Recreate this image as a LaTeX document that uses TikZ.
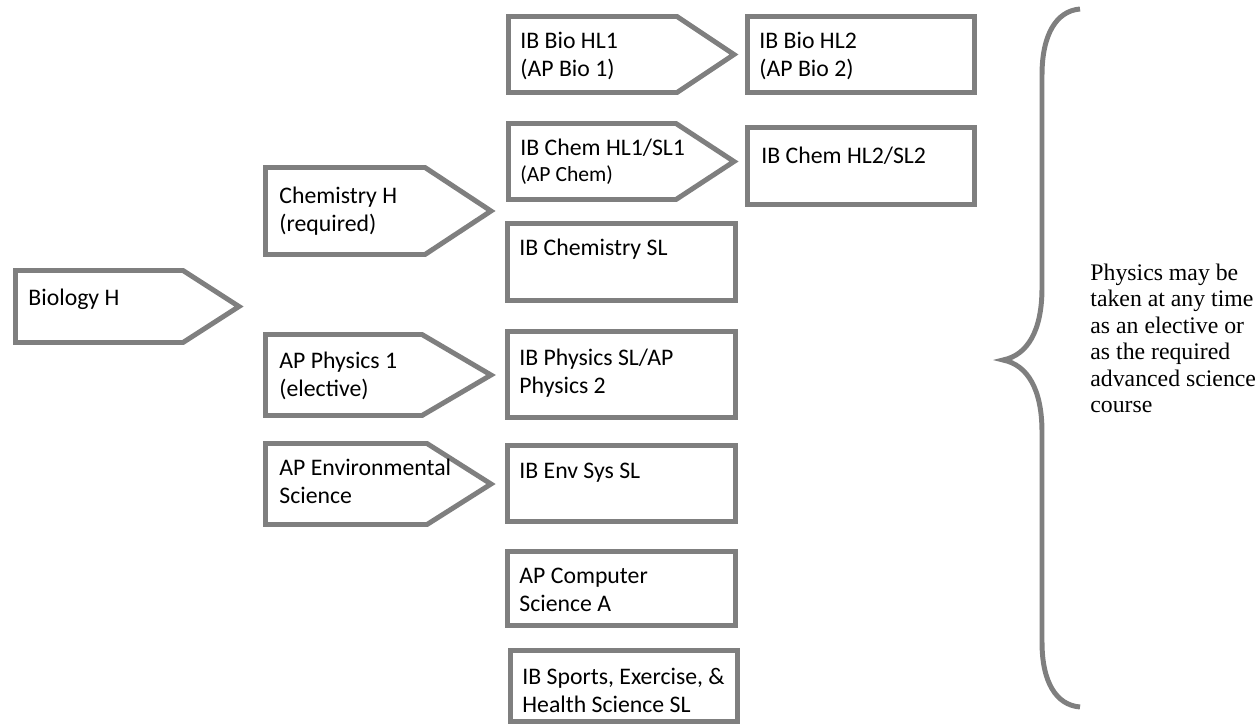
\documentclass[tikz,border=0pt]{standalone}
\usepackage{fontspec}
\setmainfont{Carlito}
\newfontfamily\notefont{Liberation Serif}
\usetikzlibrary{fit}
\definecolor{boxgray}{RGB}{127,127,127}
\begin{document}
\begin{tikzpicture}[x=0.463pt,y=-0.463pt,
  shapeline/.style={draw=boxgray,line width=2.3pt,line join=miter,miter limit=10},
  frame/.style={rectangle,inner sep=0pt,outer sep=0pt},
  rectbox/.style={frame,shapeline},
  boxtext/.style={anchor=base west,inner sep=0pt,align=left,text width=105pt,
    font=\fontsize{11}{13.4}\selectfont,
    execute at begin node={\spaceskip=0pt\xspaceskip=0pt\relax}},
  notetext/.style={anchor=base west,inner sep=0pt,align=left,text width=90pt,
    font=\notefont\fontsize{11}{12.3}\selectfont,
    execute at begin node={\spaceskip=0pt\xspaceskip=0pt\relax}}]
\useasboundingbox (0,0) rectangle (1260,726);

% ---- left column: Biology H
\node[frame,fit={(15.5,270.5)(183,342.5)}] (bioh) {};
\coordinate (biohtip) at (239,306.5);
\draw[shapeline] (bioh.north west) -- (bioh.north east) -- (biohtip)
  -- (bioh.south east) -- (bioh.south west) -- cycle;
\node[boxtext] (biohtext) at (28,305) {Biology H};

% ---- second column
\node[frame,fit={(265.5,167.5)(425,254.5)}] (chemh) {};
\coordinate (chemhtip) at (491,211);
\draw[shapeline] (chemh.north west) -- (chemh.north east) -- (chemhtip)
  -- (chemh.south east) -- (chemh.south west) -- cycle;
\node[boxtext] (chemhtext) at (279,203) {Chemistry H\\(required)};

\node[frame,fit={(265.5,334.5)(422,415.5)}] (apphys) {};
\coordinate (apphystip) at (491,375);
\draw[shapeline] (apphys.north west) -- (apphys.north east) -- (apphystip)
  -- (apphys.south east) -- (apphys.south west) -- cycle;
\node[boxtext] (apphystext) at (279,368) {AP Physics 1\\(elective)};

\node[frame,fit={(265.5,443.5)(427,524.5)}] (apenv) {};
\coordinate (apenvtip) at (491,484);
\draw[shapeline] (apenv.north west) -- (apenv.north east) -- (apenvtip)
  -- (apenv.south east) -- (apenv.south west) -- cycle;
\node[boxtext] (apenvtext) at (279,475) {AP Environmental\\Science};

% ---- third column
\node[frame,fit={(508.5,16.5)(677,92.5)}] (biohl) {};
\coordinate (biohltip) at (734,54.5);
\draw[shapeline] (biohl.north west) -- (biohl.north east) -- (biohltip)
  -- (biohl.south east) -- (biohl.south west) -- cycle;
\node[boxtext] (biohltext) at (520,48) {IB Bio HL1\\(AP Bio 1)};

\node[frame,fit={(508.5,123.5)(676,199.5)}] (chemhl) {};
\coordinate (chemhltip) at (734,161.5);
\draw[shapeline] (chemhl.north west) -- (chemhl.north east) -- (chemhltip)
  -- (chemhl.south east) -- (chemhl.south west) -- cycle;
\node[boxtext] (chemhltext) at (520,155) {IB Chem HL1/SL1\\[-1pt]{\fontsize{10}{12}\selectfont (AP Chem)}};

\node[rectbox,fit={(507.5,223.5)(735.5,300.5)}] (chemsl) {};
\node[boxtext] (chemsltext) at (519,255) {IB Chemistry SL};

\node[rectbox,fit={(507.5,331.5)(735.5,417.5)}] (physsl) {};
\node[boxtext] (physsltext) at (519,365) {IB Physics SL/AP\\Physics 2};

\node[rectbox,fit={(507.5,445.5)(735.5,521.5)}] (envsys) {};
\node[boxtext] (envsystext) at (519,478) {IB Env Sys SL};

\node[rectbox,fit={(507.5,551.5)(735.5,625.5)}] (apcs) {};
\node[boxtext] (apcstext) at (519,583) {AP Computer\\Science A};

\node[rectbox,fit={(510.5,650.5)(737.5,721.5)}] (sports) {};
\node[boxtext] (sportstext) at (522,684) {IB Sports, Exercise, \&\\Health Science SL};

% ---- fourth column
\node[rectbox,fit={(747.5,16.5)(974.5,92.5)}] (biohltwo) {};
\node[boxtext] (biohltwotext) at (759,48) {IB Bio HL2\\(AP Bio 2)};

\node[rectbox,fit={(747.5,127.5)(974.5,204.5)}] (chemhltwo) {};
\node[boxtext] (chemhltwotext) at (761,163) {IB Chem HL2/SL2};

% ---- brace and note
\coordinate (bracetop) at (1080,9);
\coordinate (bracetip) at (1003,360);
\coordinate (bracebot) at (1080,707);
\draw[draw=boxgray,line width=2.3pt] (bracetop)
  .. controls (1056,11) and (1042,35) .. (1042,75)
  -- (1042,288)
  .. controls (1042,330) and (1028,355) .. (bracetip)
  .. controls (1028,365) and (1042,390) .. (1042,432)
  -- (1042,642)
  .. controls (1042,682) and (1056,705) .. (bracebot);
\node[notetext] (note) at (1090,280) {Physics may be\\taken at any time\\as an elective or\\as the required\\advanced science\\course};
\end{tikzpicture}
\end{document}
